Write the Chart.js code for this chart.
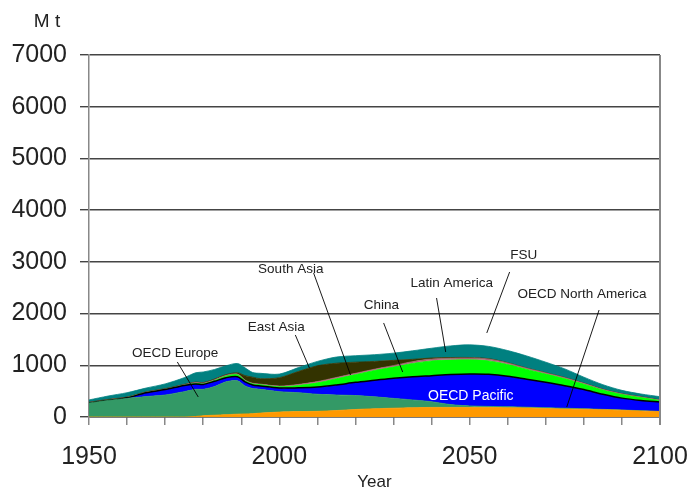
<!DOCTYPE html>
<html>
<head>
<meta charset="utf-8">
<script src="https://cdn.jsdelivr.net/npm/chart.js@4.4.1/dist/chart.umd.min.js"></script>
<style>
  html, body { margin: 0; padding: 0; background: #fff; }
  #wrap { width: 691px; height: 490px; position: relative; }
</style>
</head>
<body>
<div id="wrap"><canvas id="steel"></canvas></div>
<script>
// years
const years = [1950, 1955, 1960, 1965, 1970, 1975, 1978, 1980, 1983, 1986, 1989, 1991, 1993, 1995,
    2000, 2005, 2010, 2015, 2020, 2025, 2030, 2035, 2040, 2045, 2050, 2055, 2060, 2065, 2070,
    2075, 2080, 2085, 2090, 2095, 2100];

// each region's own slice of the stack, Mt
const oecdNorthAmerica = [0, 0, 0, 0, 0, 0, 10, 25, 35, 45, 55, 60, 65, 75,
    95, 105, 110, 125, 145, 160, 170, 180, 185, 185, 185, 185, 180, 175, 165,
    155, 150, 140, 130, 115, 105];
const oecdEurope = [270, 320, 360, 395, 425, 490, 525, 510, 555, 635, 645, 540, 485, 460,
    395, 365, 330, 300, 270, 230, 190, 150, 110, 55, 30, 20, 20, 15, 15,
    15, 10, 8, 6, 7, 5];
const oecdPacific = [2, 5, 12, 75, 105, 120, 105, 95, 100, 80, 80, 80, 70, 65,
    70, 95, 140, 195, 255, 320, 390, 450, 505, 580, 615, 620, 590, 540, 490,
    435, 370, 292, 229, 198, 180];
const china = [2, 2, 2, 2, 3, 4, 10, 10, 15, 30, 35, 20, 20, 25,
    25, 45, 80, 120, 150, 190, 215, 255, 285, 280, 275, 260, 225, 190, 160,
    135, 105, 80, 70, 55, 28];
const southAsia = [2, 2, 2, 2, 2, 2, 3, 3, 3, 3, 3, 3, 3, 3,
    5, 8, 10, 10, 10, 10, 10, 10, 10, 10, 10, 10, 10, 8, 8,
    8, 7, 6, 5, 5, 4];
const latinAmerica = [6, 6, 6, 6, 7, 8, 12, 12, 12, 12, 12, 10, 9, 8,
    8, 12, 15, 15, 15, 15, 20, 25, 25, 25, 25, 25, 20, 15, 15,
    12, 10, 8, 7, 6, 5];
const eastAsia = [3, 5, 4, 5, 6, 6, 10, 10, 15, 15, 25, 87, 118, 104,
    162, 250, 305, 275, 215, 150, 100, 45, 20, 15, 10, 8, 5, 3, 3,
    3, 3, 3, 3, 3, 3];
const fsu = [45, 65, 84, 75, 92, 130, 180, 205, 185, 170, 180, 150, 90, 105,
    70, 75, 85, 120, 125, 130, 140, 165, 190, 225, 245, 237, 235, 234, 204,
    167, 115, 88, 65, 56, 63];

const xTickLabels = [1950, 2000, 2050, 2100];

// label text, where it sits, and the leader line (year, Mt)
const notes = [
    { text: 'OECD Europe', at: [1972.6, 1238], from: [1973.2, 1064], to: [1978.7, 387] },
    { text: 'East Asia', at: [1999.2, 1740], from: [2004.2, 1586], to: [2007.9, 948] },
    { text: 'South Asia', at: [2003.0, 2862], from: [2009.0, 2785], to: [2018.7, 812] },
    { text: 'China', at: [2026.8, 2166], from: [2027.4, 1818], to: [2032.4, 870] },
    { text: 'Latin America', at: [2045.3, 2592], from: [2041.3, 2301], to: [2043.7, 1257] },
    { text: 'FSU', at: [2064.2, 3133], from: [2060.5, 2804], to: [2054.5, 1625] },
    { text: 'OECD North America', at: [2079.5, 2379], from: [2084.0, 2069], to: [2075.5, 193] },
    { text: 'OECD Pacific', at: [2050.3, 406], white: true },
];

const FONT = '"Liberation Sans", Arial, sans-serif';

const pts = (vals) => vals.map((v, i) => ({ x: years[i], y: v }));

const layer = (label, vals, color, first, edge) => ({
    label: label,
    data: pts(vals),
    backgroundColor: color,
    borderColor: edge || color,
    borderWidth: edge ? 1.5 : 0.8,
    pointRadius: 0,
    tension: 0.3,
    fill: first ? 'origin' : '-1',
});

const regionLabels = {
    id: 'regionLabels',
    afterDatasetsDraw(chart) {
        const { ctx, chartArea } = chart;
        const x = chart.scales.x;
        const y = chart.scales.y;
        ctx.save();
        ctx.strokeStyle = '#888';
        ctx.lineWidth = 2;
        ctx.beginPath();
        ctx.moveTo(chartArea.right, chartArea.top);
        ctx.lineTo(chartArea.right, chartArea.bottom + 8);
        ctx.stroke();

        ctx.textAlign = 'center';
        ctx.textBaseline = 'middle';
        notes.forEach((n) => {
            if (n.from) {
                ctx.strokeStyle = '#000';
                ctx.lineWidth = 0.9;
                ctx.beginPath();
                ctx.moveTo(x.getPixelForValue(n.from[0]), y.getPixelForValue(n.from[1]));
                ctx.lineTo(x.getPixelForValue(n.to[0]), y.getPixelForValue(n.to[1]));
                ctx.stroke();
            }
            ctx.fillStyle = n.white ? '#fff' : '#222';
            ctx.font = (n.white ? '14px ' : '13.5px ') + FONT;
            ctx.fillText(n.text, x.getPixelForValue(n.at[0]), y.getPixelForValue(n.at[1]));
        });

        ctx.fillStyle = '#222';
        ctx.font = '19px ' + FONT;
        ctx.fillText('M t', chartArea.left - 42, chartArea.top - 33);
        ctx.restore();
    },
};

const ctx = document.getElementById('steel').getContext('2d');
new Chart(ctx, {
    type: 'line',
    data: {
        datasets: [
            layer('OECD North America', oecdNorthAmerica, '#ff9900', true),
            layer('OECD Europe', oecdEurope, '#339966'),
            layer('OECD Pacific', oecdPacific, '#0000ff', false, '#000'),
            layer('China', china, '#00ff00'),
            layer('South Asia', southAsia, '#cc6699'),
            layer('Latin America', latinAmerica, '#996666'),
            layer('East Asia', eastAsia, '#333300'),
            layer('FSU', fsu, '#008080'),
        ],
    },
    options: {
        responsive: true,
        maintainAspectRatio: false,
        animation: false,
        layout: { padding: { top: 55, right: 31, left: 11, bottom: 0 } },
        plugins: { legend: { display: false }, tooltip: { enabled: false } },
        scales: {
            x: {
                type: 'linear',
                min: 1950,
                max: 2100,
                afterFit: (scale) => { scale.height = 73; },
                grid: { drawOnChartArea: false, drawTicks: true, tickLength: 8, color: '#888', lineWidth: 1.5 },
                border: { color: '#555', width: 1.5 },
                ticks: {
                    stepSize: 10,
                    autoSkip: false,
                    maxRotation: 0,
                    padding: 0,
                    color: '#222',
                    font: { family: FONT, size: 25, lineHeight: 2.6 },
                    callback: (v) => (xTickLabels.includes(v) ? String(v) : ''),
                },
                title: {
                    display: true,
                    text: 'Year',
                    color: '#222',
                    padding: { top: 0, bottom: -3 },
                    font: { family: FONT, size: 17 },
                },
            },
            y: {
                stacked: true,
                min: 0,
                max: 7000,
                afterFit: (scale) => { scale.width = 78; },
                grid: { color: '#444', lineWidth: 1.4, tickLength: 9 },
                border: { color: '#888', width: 1.5 },
                ticks: {
                    stepSize: 1000,
                    padding: 13,
                    color: '#222',
                    font: { family: FONT, size: 25 },
                    callback: (v) => String(v),
                },
            },
        },
    },
    plugins: [regionLabels],
});
</script>
</body>
</html>
